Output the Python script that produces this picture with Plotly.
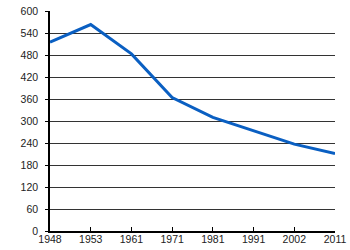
import plotly.graph_objects as go

years = ["1948", "1953", "1961", "1971", "1981", "1991", "2002", "2011"]
values = [515, 563, 483, 364, 310, 274, 237, 211]
y_ticks = [0, 60, 120, 180, 240, 300, 360, 420, 480, 540, 600]

fig = go.Figure()
fig.add_trace(go.Scatter(
    x=years, y=values, mode="lines",
    line=dict(color="#0a5fc2", width=3),
    hoverinfo="skip",
))

fig.update_layout(
    width=350, height=250,
    margin=dict(l=50, r=15, t=11, b=19, autoexpand=False),
    paper_bgcolor="white", plot_bgcolor="white",
    showlegend=False,
    font=dict(family="Liberation Sans, Arial, sans-serif", size=10.5, color="#222222"),
)
fig.update_xaxes(
    type="category", range=[0, 7], automargin=False,
    showgrid=False, showline=True, linecolor="black", linewidth=1.5,
    ticks="inside", ticklen=4, tickcolor="black", tickwidth=1,
    ticklabelstandoff=-2,
    zeroline=False,
)
fig.update_yaxes(
    range=[0, 600], tickvals=y_ticks, automargin=False,
    showgrid=True, gridcolor="#333333", gridwidth=1,
    showline=True, linecolor="black", linewidth=1.5,
    ticks="outside", ticklen=3, tickcolor="black",
    ticklabelstandoff=5,
    zeroline=False,
)

fig.write_html("out.html")
